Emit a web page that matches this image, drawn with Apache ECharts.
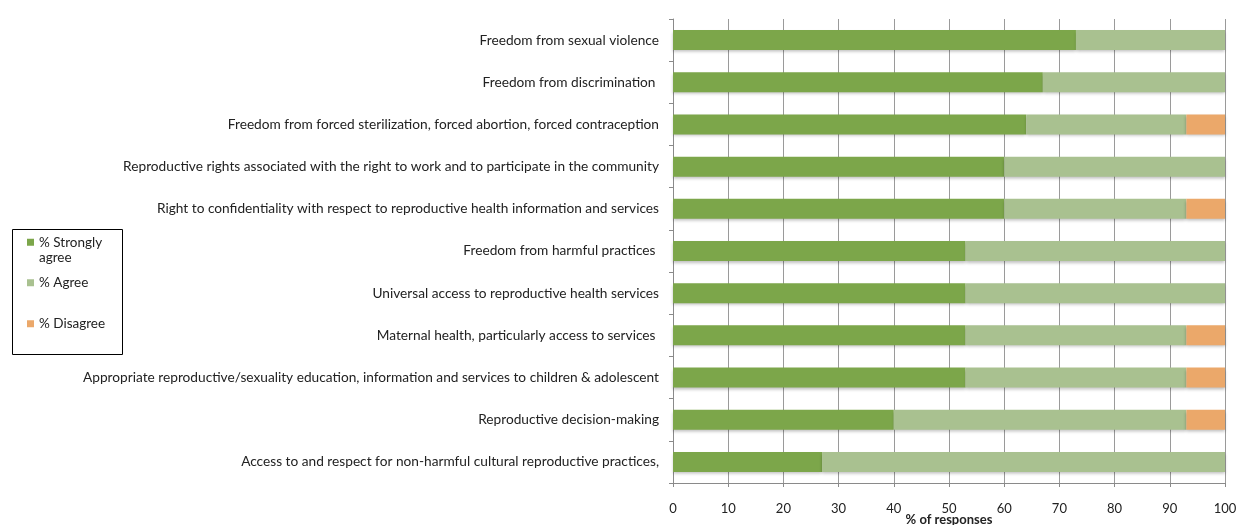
<!DOCTYPE html>
<html>
<head>
<meta charset="utf-8">
<script src="https://cdn.jsdelivr.net/npm/echarts@6/dist/echarts.min.js"></script>
<style>
  html, body { margin: 0; padding: 0; background: #fff; }
  #chart { width: 1237px; height: 525px; }
</style>
</head>
<body>
<div id="chart"></div>
<script>
  // categories, top to bottom
  const categories = [
    'Freedom from sexual violence',
    'Freedom from discrimination ',
    'Freedom from forced sterilization, forced abortion, forced contraception',
    'Reproductive rights associated with the right to work and to participate in the community',
    'Right to confidentiality with respect to reproductive health information and services',
    'Freedom from harmful practices ',
    'Universal access to reproductive health services',
    'Maternal health, particularly access to services ',
    'Appropriate reproductive/sexuality education, information and services to children & adolescent',
    'Reproductive decision-making',
    'Access to and respect for non-harmful cultural reproductive practices,'
  ];

  // % of responses
  const stronglyAgree = [73, 67, 64, 60, 60, 53, 53, 53, 53, 40, 27];
  const agree = [27, 33, 29, 40, 33, 47, 47, 40, 40, 53, 73];
  const disagree = [0, 0, 7, 0, 7, 0, 0, 7, 7, 7, 0];

  const xTicks = [0, 10, 20, 30, 40, 50, 60, 70, 80, 90, 100];

  const FONT = 'Lato';
  const colors = ['#7ca64a', '#a9c190', '#eba86a'];

  const chart = echarts.init(document.getElementById('chart'));

  const barShadow = {
    shadowBlur: 3,
    shadowColor: 'rgba(0,0,0,0.25)',
    shadowOffsetY: 2
  };

  const legendBase = {
    orient: 'vertical',
    left: 27,
    padding: 0,
    icon: 'rect',
    itemWidth: 7,
    itemHeight: 7,
    selectedMode: false,
    textStyle: { fontFamily: FONT, fontSize: 13.5, color: '#222', lineHeight: 15.5 }
  };

  const option = {
    animation: false,
    textStyle: { fontFamily: FONT },
    grid: { left: 673, right: 12, top: 19, bottom: 42, outerBoundsMode: 'none', containLabel: false },
    legend: [
      // empty first line keeps the icon level with "% Strongly"
      Object.assign({}, legendBase, {
        top: 219,
        data: ['% Strongly agree'],
        formatter: () => '\n% Strongly\nagree'
      }),
      Object.assign({}, legendBase, { top: 275, data: ['% Agree'] }),
      Object.assign({}, legendBase, { top: 316, data: ['% Disagree'] })
    ],
    graphic: [{
      type: 'rect',
      left: 10,
      top: 227,
      shape: { width: 110, height: 125 },
      style: { fill: 'none', stroke: '#000', lineWidth: 1 }
    }],
    xAxis: {
      type: 'value',
      min: xTicks[0],
      max: xTicks[xTicks.length - 1],
      interval: 10,
      name: '% of responses',
      nameLocation: 'middle',
      nameGap: 30,
      nameMoveOverlap: false,
      nameTextStyle: { fontFamily: FONT, fontWeight: 'bold', fontSize: 13, color: '#222' },
      axisLine: { show: true, lineStyle: { color: '#8a8a8a' } },
      axisTick: { show: true, length: 4, lineStyle: { color: '#8a8a8a' } },
      axisLabel: { fontFamily: FONT, fontSize: 13, color: '#222', margin: 19 },
      splitLine: { show: true, lineStyle: { color: '#9a9a9a' } }
    },
    yAxis: {
      type: 'category',
      inverse: true,
      data: categories,
      axisLine: { show: true, lineStyle: { color: '#8a8a8a' } },
      axisTick: { show: true, length: 4, lineStyle: { color: '#8a8a8a' } },
      axisLabel: { fontFamily: FONT, fontSize: 13.7, color: '#222', margin: 14 }
    },
    series: [
      {
        name: '% Strongly agree', type: 'bar', stack: 'total', barWidth: 20,
        itemStyle: Object.assign({ color: colors[0] }, barShadow),
        data: stronglyAgree
      },
      {
        name: '% Agree', type: 'bar', stack: 'total', barWidth: 20,
        itemStyle: Object.assign({ color: colors[1] }, barShadow),
        data: agree
      },
      {
        name: '% Disagree', type: 'bar', stack: 'total', barWidth: 20,
        itemStyle: Object.assign({ color: colors[2] }, barShadow),
        data: disagree
      }
    ]
  };

  chart.setOption(option);
</script>
</body>
</html>
